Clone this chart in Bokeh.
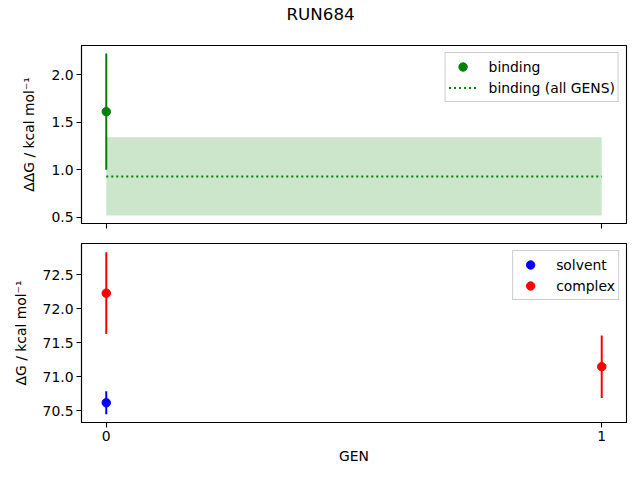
from bokeh.plotting import figure
from bokeh.layouts import column
from bokeh.models import FixedTicker, PrintfTickFormatter, Range1d, Legend, LegendItem, Title
from bokeh.embed import file_html
from bokeh.resources import INLINE

# ---- data ----
title_text = "RUN684"
gens_binding = [0]
binding = [1.61]
binding_err = [0.61]
all_gens = [0, 1]
binding_all = 0.93
binding_all_err = 0.41
solvent_gens = [0]
solvent = [70.62]
solvent_err = [0.17]
complex_gens = [0, 1]
complex_vals = [72.23, 71.15]
complex_err = [0.60, 0.46]
top_yticks = [0.5, 1.0, 1.5, 2.0]
bottom_yticks = [70.5, 71.0, 71.5, 72.0, 72.5]
xticks = [0, 1]

FONT = "DejaVu Sans"
FS = "13.9px"


def style(p, ylabel, yticks, show_xlabels):
    p.grid.visible = False
    p.outline_line_color = "black"
    p.outline_line_width = 1.1
    p.outline_line_alpha = 1
    for ax in p.axis:
        ax.axis_line_color = "black"
        ax.axis_line_width = 1.1
        ax.major_tick_line_color = "black"
        ax.major_tick_line_width = 1.1
        ax.major_tick_out = 5
        ax.major_tick_in = 0
        ax.minor_tick_line_color = None
        ax.major_label_text_font = FONT
        ax.major_label_text_font_size = FS
        ax.major_label_text_color = "black"
        ax.axis_label_text_font = FONT
        ax.axis_label_text_font_size = FS
        ax.axis_label_text_font_style = "normal"
        ax.axis_label_text_color = "black"
        ax.major_label_standoff = 3
    p.yaxis.ticker = FixedTicker(ticks=yticks)
    p.yaxis.formatter = PrintfTickFormatter(format="%.1f")
    p.yaxis.axis_label = ylabel
    p.yaxis.axis_label_standoff = 11
    p.xaxis.ticker = FixedTicker(ticks=xticks)
    if not show_xlabels:
        p.xaxis.major_label_overrides = {0: "", 1: ""}
        p.xaxis.major_label_text_font_size = "0px"
        p.xaxis.major_label_standoff = 0
    else:
        p.xaxis.axis_label = "GEN"
        p.xaxis.axis_label_standoff = 4


def style_legend(lg):
    lg.location = "top_right"
    lg.border_line_color = "#cccccc"
    lg.border_line_alpha = 1
    lg.border_line_width = 1
    lg.background_fill_alpha = 0.8
    lg.label_text_font = FONT
    lg.label_text_font_size = FS
    lg.label_text_color = "black"
    lg.glyph_width = 28
    lg.glyph_height = 21
    lg.label_height = 16
    lg.label_standoff = 12
    lg.spacing = -1
    lg.padding = 3
    lg.margin = 7


x_range = Range1d(-0.05, 1.05)

# ---- top panel ----
p1 = figure(frame_width=545, frame_height=178, x_range=x_range,
            y_range=(0.435, 2.305), output_backend="svg", toolbar_location=None,
            min_border_left=81, min_border_right=14, min_border_top=45,
            min_border_bottom=10)
# visible title (outer)
p1.title.text = title_text
p1.title.align = "left"
p1.title.offset = 205
p1.title.text_font = FONT
p1.title.text_font_size = "16.7px"
p1.title.text_font_style = "normal"
p1.title.text_color = "black"
p1.title.standoff = 0
# blank spacer title (inner, next to the frame)
spacer = Title(text=" ", text_font=FONT, text_font_size="16.7px", standoff=0)
p1.add_layout(spacer, "above")

lo = [all_gens[0], all_gens[-1]]
p1.varea(x=lo, y1=[binding_all - binding_all_err] * 2,
         y2=[binding_all + binding_all_err] * 2, fill_color="green", fill_alpha=0.2)
r_line = p1.line(x=lo, y=[binding_all] * 2, line_color="green",
                 line_dash="2 3", line_width=2)
p1.segment(x0=gens_binding, x1=gens_binding,
           y0=[b - e for b, e in zip(binding, binding_err)],
           y1=[b + e for b, e in zip(binding, binding_err)],
           line_color="green", line_width=2)
r_bind = p1.scatter(x=gens_binding, y=binding, size=8.5, color="green")
leg1 = Legend(items=[LegendItem(label="binding", renderers=[r_bind]),
                     LegendItem(label="binding (all GENS)", renderers=[r_line])])
p1.add_layout(leg1, "center")
style(p1, "ΔΔG / kcal mol⁻¹", top_yticks, False)
style_legend(leg1)

# ---- bottom panel ----
p2 = figure(frame_width=545, frame_height=179, x_range=x_range,
            y_range=(70.33, 72.96), output_backend="svg", toolbar_location=None,
            min_border_left=81, min_border_right=14, min_border_top=10,
            min_border_bottom=58)
p2.segment(x0=solvent_gens, x1=solvent_gens,
           y0=[v - e for v, e in zip(solvent, solvent_err)],
           y1=[v + e for v, e in zip(solvent, solvent_err)],
           line_color="blue", line_width=2)
p2.segment(x0=complex_gens, x1=complex_gens,
           y0=[v - e for v, e in zip(complex_vals, complex_err)],
           y1=[v + e for v, e in zip(complex_vals, complex_err)],
           line_color="red", line_width=2)
r_solv = p2.scatter(x=solvent_gens, y=solvent, size=8.5, color="blue")
r_comp = p2.scatter(x=complex_gens, y=complex_vals, size=8.5, color="red")
leg2 = Legend(items=[LegendItem(label="solvent", renderers=[r_solv]),
                     LegendItem(label="complex", renderers=[r_comp])])
p2.add_layout(leg2, "center")
style(p2, "ΔG / kcal mol⁻¹", bottom_yticks, True)
style_legend(leg2)

layout = column(p1, p2, spacing=0)
open("out.html", "w").write(file_html(layout, INLINE))
